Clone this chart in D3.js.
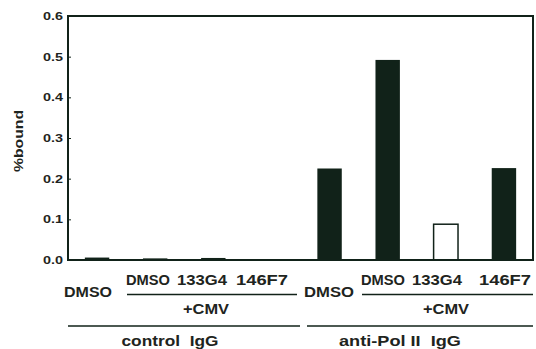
<!DOCTYPE html>
<html>
<head>
<meta charset="utf-8">
<script src="https://d3js.org/d3.v7.min.js"></script>
<style>
  html, body { margin: 0; padding: 0; background: #fff; }
  svg { display: block; }
  text { font-family: "Liberation Sans", Arial, Helvetica, sans-serif; font-weight: bold; fill: #1e2420; white-space: pre; }
</style>
</head>
<body>
<svg id="chart" width="536" height="349"></svg>
<script>
// ChIP signal (% bound) for each condition
const categories = ["ctl-DMSO", "ctl-CMV-DMSO", "ctl-CMV-133G4", "ctl-CMV-146F7",
                    "pol-DMSO", "pol-CMV-DMSO", "pol-CMV-133G4", "pol-CMV-146F7"];
const values = [0.006, 0.004, 0.005, 0.0, 0.225, 0.492, 0.088, 0.226];
const openBar = [false, false, false, false, false, false, true, false];
const yTicks = [0.0, 0.1, 0.2, 0.3, 0.4, 0.5, 0.6];
const treatmentLabels = ["DMSO", "133G4", "146F7"];
const groupLabels = ["control  IgG", "anti-Pol II  IgG"];

const ink = "#112219";
const svg = d3.select("#chart");
const plotL = 68, plotR = 533, plotT = 16, plotB = 260;

const x = d3.scaleBand().domain(categories).range([plotL, plotR])
  .paddingInner(0.58).paddingOuter(0.29);
const y = d3.scaleLinear().domain([0, 0.6]).range([plotB, plotT]);

// axis on the left, ticks pointing inward
const yAxis = d3.axisLeft(y).tickValues(yTicks).tickFormat(d3.format(".1f"))
  .tickSize(-3).tickPadding(5);
const ga = svg.append("g").attr("transform", `translate(${plotL},0)`).call(yAxis);
ga.select(".domain").remove();
ga.selectAll(".tick line").attr("stroke", ink).attr("stroke-width", 1);
ga.selectAll(".tick text").style("font-size", "11px").attr("fill", "#222")
  .attr("textLength", 20).attr("lengthAdjust", "spacingAndGlyphs");

// bars
svg.append("g").selectAll("rect").data(categories).join("rect")
  .attr("x", d => x(d))
  .attr("width", x.bandwidth())
  .attr("y", (d, i) => y(values[i]))
  .attr("height", (d, i) => y(0) - y(values[i]))
  .attr("fill", (d, i) => openBar[i] ? "#fff" : ink)
  .attr("stroke", (d, i) => openBar[i] ? ink : "none")
  .attr("stroke-width", 1.5);

// plot frame
svg.append("rect").attr("x", plotL).attr("y", plotT)
  .attr("width", plotR - plotL).attr("height", plotB - plotT)
  .attr("fill", "none").attr("stroke", ink).attr("stroke-width", 2);

// y title
svg.append("text").attr("transform", "translate(23,141) rotate(-90)")
  .attr("text-anchor", "middle").style("font-size", "13px")
  .attr("textLength", 62).attr("lengthAdjust", "spacingAndGlyphs").text("%bound");

// category annotations (wide bold lettering)
const ann = svg.append("g");
const label = (tx, ty, s, size, w) => ann.append("text")
  .attr("x", tx - w / 2).attr("y", ty)
  .attr("textLength", w).attr("lengthAdjust", "spacingAndGlyphs")
  .style("font-size", size + "px").text(s);
const hline = (x1, x2, yy) => ann.append("line").attr("x1", x1).attr("x2", x2)
  .attr("y1", yy).attr("y2", yy).attr("stroke", ink).attr("stroke-width", 1.6);

const groups = [
  { first: 88, firstW: 48, tx: [148, 202, 262], tw: [44, 50, 52],
    line: [127, 297], big: [68, 300], cmv: 206, g: 170, gw: 97 },
  { first: 329, firstW: 50, tx: [383, 437, 505], tw: [44, 50, 52],
    line: [362, 533], big: [307, 533], cmv: 446, g: 400, gw: 122 }
];
groups.forEach((g, gi) => {
  label(g.first, 297, "DMSO", 14, g.firstW);
  treatmentLabels.forEach((t, j) => label(g.tx[j], 285, t, 14, g.tw[j]));
  hline(g.line[0], g.line[1], 294.5);
  label(g.cmv, 314, "+CMV", 14, 46);
  hline(g.big[0], g.big[1], 326);
  label(g.g, 346, groupLabels[gi], 14, g.gw);
});
</script>
</body>
</html>
